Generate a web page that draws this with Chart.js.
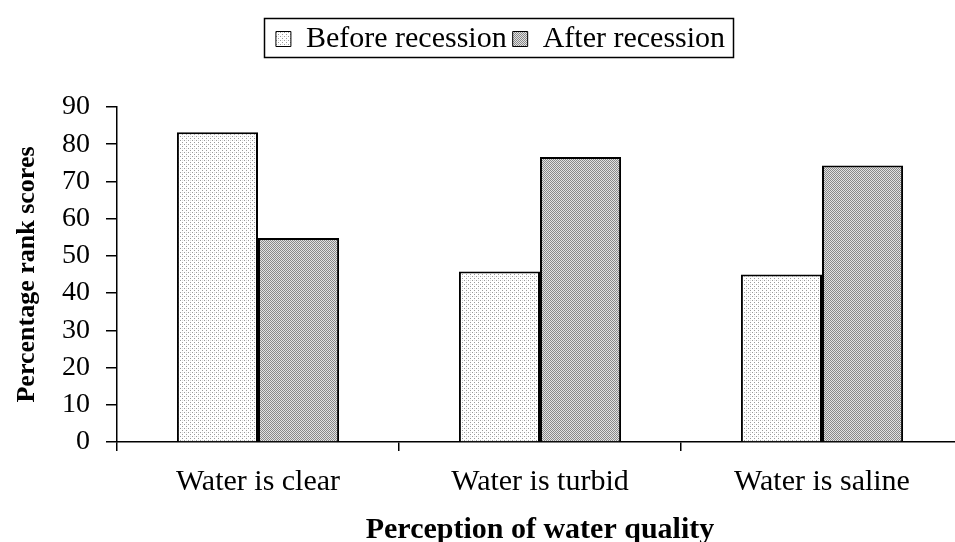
<!DOCTYPE html>
<html>
<head>
<meta charset="utf-8">
<script src="https://cdn.jsdelivr.net/npm/chart.js@4.4.1/dist/chart.umd.min.js"></script>
<style>
  html, body { margin: 0; padding: 0; background: #fff; overflow: hidden; }
  #wrap { width: 1001px; height: 542px; }
</style>
</head>
<body>
<div id="wrap"><canvas id="c" width="1001" height="542"></canvas></div>
<script>
const categories = ['Water is clear', 'Water is turbid', 'Water is saline'];
const seriesNames = ['Before recession', 'After recession'];
const beforeValues = [83.2, 45.8, 45.0];
const afterValues = [54.8, 76.6, 74.3];
const yTicks = [0, 10, 20, 30, 40, 50, 60, 70, 80, 90];
const xTitle = 'Perception of water quality';
const yTitle = 'Percentage rank scores';

function makePattern(size, bg, dots) {
  const c = document.createElement('canvas');
  c.width = size; c.height = size;
  const g = c.getContext('2d');
  g.fillStyle = bg; g.fillRect(0, 0, size, size);
  dots.forEach(d => { g.fillStyle = d[2]; g.fillRect(d[0], d[1], 1, 1); });
  return g.createPattern(c, 'repeat');
}
const beforeFill = makePattern(4, '#ffffff', [[0,0,'#9a9a9a'],[2,2,'#9a9a9a'],[2,0,'#dedede']]);
const afterFill = makePattern(2, '#e2e2e2', [[0,0,'#888888'],[1,1,'#888888']]);

const serif = "'Liberation Serif', 'Times New Roman', serif";

const legendBorder = {
  id: 'legendBorder',
  beforeLayout(chart) {
    const lg = chart.legend;
    if (lg && !lg._fitPatched) {
      const orig = lg.fit;
      lg.fit = function () { orig.call(this); this.height += 43; };
      lg._fitPatched = true;
    }
  },
  afterDraw(chart) {
    const hb = chart.legend.legendHitBoxes;
    if (!hb || !hb.length) return;
    const first = hb[0], last = hb[hb.length - 1];
    const ctx = chart.ctx;
    ctx.save();
    ctx.strokeStyle = '#000';
    ctx.lineWidth = 1.5;
    const x0 = first.left - 12, x1 = last.left + last.width + 8;
    const y0 = first.top - 6, y1 = first.top + first.height + 3;
    ctx.strokeRect(Math.round(x0) + 0.5, Math.round(y0) + 0.5, Math.round(x1 - x0), Math.round(y1 - y0));
    ctx.restore();
  }
};

new Chart(document.getElementById('c'), {
  type: 'bar',
  data: {
    labels: categories,
    datasets: [
      { label: seriesNames[0], data: beforeValues, backgroundColor: beforeFill, borderColor: '#000', borderWidth: 2 },
      { label: seriesNames[1], data: afterValues, backgroundColor: afterFill, borderColor: '#000', borderWidth: 2 }
    ]
  },
  options: {
    responsive: false,
    animation: false,
    devicePixelRatio: 1,
    layout: { padding: { top: 18, left: 0, right: 0, bottom: 0 } },
    datasets: { bar: { categoryPercentage: 0.575, barPercentage: 1.0 } },
    plugins: {
      tooltip: { enabled: false },
      legend: {
        position: 'top',
        labels: {
          color: '#000',
          font: { family: serif, size: 30 },
          boxWidth: 15,
          boxHeight: 15,
          padding: 6,
          generateLabels(chart) {
            return Chart.defaults.plugins.legend.labels.generateLabels(chart).map(l => Object.assign(l, { lineWidth: 1 }));
          }
        }
      }
    },
    scales: {
      x: {
        grid: { display: true, drawOnChartArea: false, drawTicks: true, tickLength: 9, color: '#000', lineWidth: 1.5, offset: true },
        border: { display: true, color: '#000', width: 1.5 },
        ticks: { color: '#000', font: { family: serif, size: 30 }, padding: 13, maxRotation: 0 },
        title: { display: true, text: xTitle, color: '#000', font: { family: serif, size: 30, weight: 'bold', lineHeight: 0.8 }, padding: { top: 0, bottom: 0 } },
        afterFit(s) { s.height = 100; }
      },
      y: {
        min: 0, max: 90,
        afterBuildTicks(s) { s.ticks = yTicks.map(v => ({ value: v })); },
        grid: { display: true, drawOnChartArea: false, drawTicks: true, tickLength: 11, color: '#000', lineWidth: 1.5 },
        border: { display: true, color: '#000', width: 1.5 },
        ticks: { color: '#000', font: { family: serif, size: 28 }, padding: 16 },
        title: { display: true, text: yTitle, color: '#000', font: { family: serif, size: 26, weight: 'bold', lineHeight: 1.2 }, padding: { top: 12, bottom: 0 } },
        afterFit(s) { s.width = 117; }
      },
      yRight: {
        type: 'linear', position: 'right', display: true,
        grid: { display: false, drawTicks: false },
        border: { display: false },
        ticks: { display: false },
        afterFit(s) { s.width = 38; }
      }
    }
  },
  plugins: [legendBorder]
});
</script>
</body>
</html>
